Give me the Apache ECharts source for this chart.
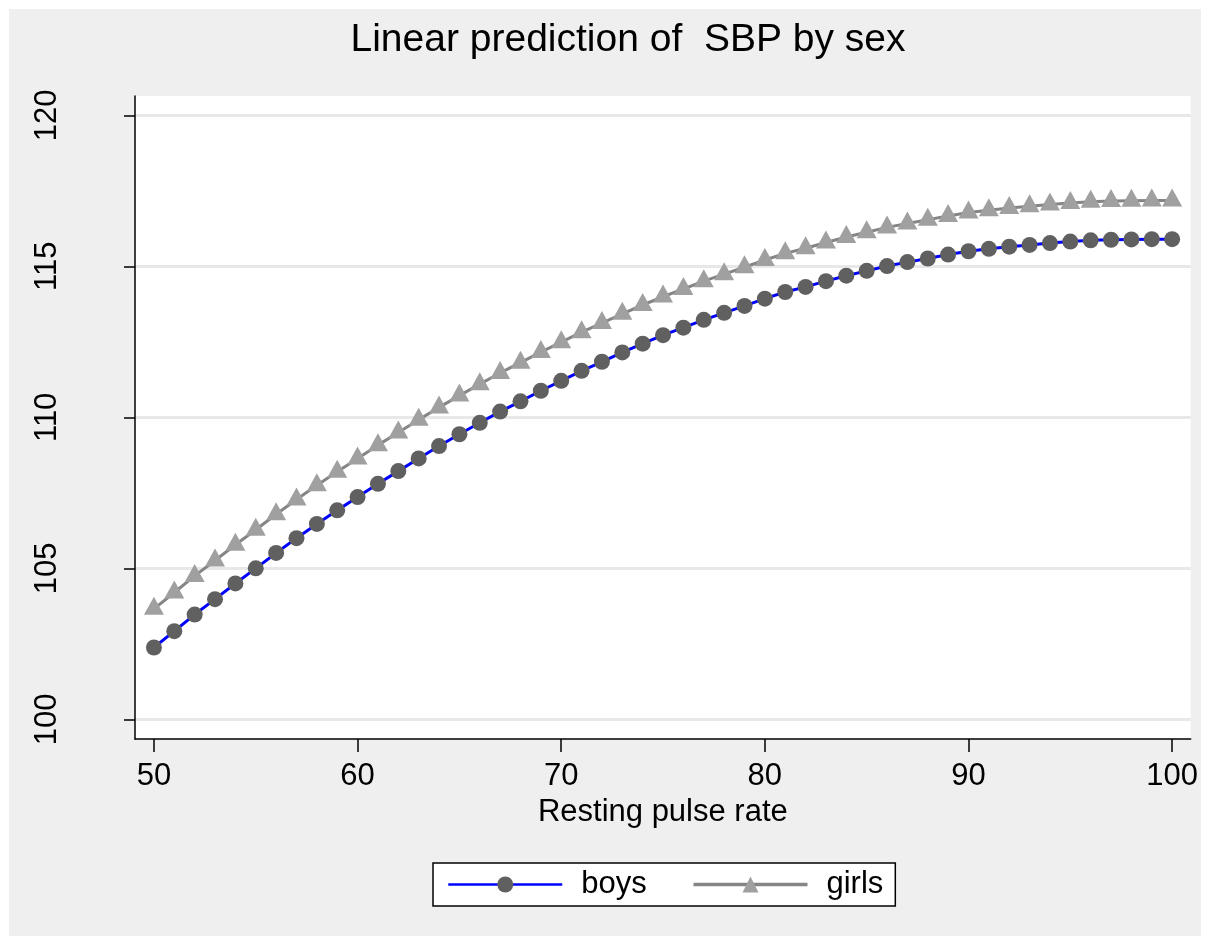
<!DOCTYPE html>
<html>
<head>
<meta charset="utf-8">
<script src="https://cdn.jsdelivr.net/npm/echarts@6/dist/echarts.min.js"></script>
<style>
  html, body { margin: 0; padding: 0; background: #ffffff; }
  #wrap { position: relative; width: 1210px; height: 945px; background: #ffffff; }
  #c { position: absolute; left: 9px; top: 9px; width: 1192px; height: 927px; }
</style>
</head>
<body>
<div id="wrap"><div id="c"></div></div>
<script>
const pulse = [50,51,52,53,54,55,56,57,58,59,60,61,62,63,64,65,66,67,68,69,70,71,72,73,74,75,76,77,78,79,80,81,82,83,84,85,86,87,88,89,90,91,92,93,94,95,96,97,98,99,100];
const boys = [102.38,102.92,103.47,103.98,104.50,105.00,105.51,106.00,106.47,106.92,
              107.36,107.80,108.22,108.64,109.05,109.44,109.82,110.19,110.53,110.88,
              111.21,111.54,111.84,112.15,112.44,112.72,112.97,113.23,113.46,113.69,
              113.93,114.15,114.32,114.51,114.69,114.85,115.01,115.14,115.26,115.39,
              115.50,115.58,115.65,115.71,115.77,115.82,115.86,115.88,115.89,115.90,115.90];
const girls = [103.66,104.20,104.75,105.26,105.78,106.28,106.79,107.28,107.75,108.20,
               108.64,109.08,109.50,109.92,110.33,110.72,111.10,111.47,111.81,112.16,
               112.49,112.82,113.12,113.43,113.72,114.00,114.25,114.51,114.74,114.97,
               115.21,115.43,115.60,115.79,115.97,116.13,116.29,116.42,116.54,116.67,
               116.78,116.86,116.93,116.99,117.05,117.10,117.14,117.16,117.17,117.18,117.18];
const xTicks = [50,60,70,80,90,100];
const yTicks = [100,105,110,115,120];
const seriesNames = ['boys','girls'];
const titleText = 'Linear prediction of  SBP by sex';
const xName = 'Resting pulse rate';

const FONT = '"Liberation Sans", Arial, Helvetica, sans-serif';
const chart = echarts.init(document.getElementById('c'), null, {renderer: 'canvas'});
const option = {
  backgroundColor: '#efefef',
  animation: false,
  title: {
    text: titleText,
    left: 614,
    textAlign: 'center',
    top: 7,
    textStyle: {fontFamily: FONT, fontSize: 39, fontWeight: 'normal', color: '#000'}
  },
  grid: {
    left: 126, top: 87, width: 1056, height: 643,
    show: true, backgroundColor: '#ffffff', borderWidth: 0,
    containLabel: false
  },
  xAxis: {
    type: 'value',
    min: 49.07, max: 100.91,
    name: xName,
    nameLocation: 'middle',
    nameGap: 56,
    nameTextStyle: {fontFamily: FONT, fontSize: 31, color: '#000', verticalAlign: 'top'},
    axisLine: {show: true, onZero: false, lineStyle: {color: '#000', width: 1.5}},
    axisTick: {show: true, inside: false, length: 13, customValues: xTicks, lineStyle: {color: '#000', width: 1.5}},
    axisLabel: {show: true, customValues: xTicks, margin: 22, fontFamily: FONT, fontSize: 31, color: '#000',
                showMinLabel: true, showMaxLabel: true},
    splitLine: {show: false}
  },
  yAxis: {
    type: 'value',
    min: 99.35, max: 120.64,
    axisLine: {show: true, onZero: false, lineStyle: {color: '#000', width: 1.5}},
    axisTick: {show: true, inside: false, length: 11, customValues: yTicks, lineStyle: {color: '#000', width: 1.5}},
    axisLabel: {show: true, customValues: yTicks, rotate: 90, margin: 72, fontFamily: FONT, fontSize: 31, color: '#000',
                showMinLabel: true, showMaxLabel: true},
    splitLine: {show: true, lineStyle: {color: '#e8e8e8', width: 3}}
  },
  legend: {
    data: [
      {name: seriesNames[0], lineStyle: {width: 2.5, color: '#0000ff'}, itemStyle: {color: '#606060'}},
      {name: seriesNames[1], lineStyle: {width: 3.5, color: '#858585'}, itemStyle: {color: '#a0a0a0'}}
    ],
    left: 424,
    top: 854,
    orient: 'horizontal',
    itemWidth: 114,
    itemHeight: 20,
    itemGap: 45,
    padding: [6, 12, 6, 14],
    backgroundColor: '#ffffff',
    borderColor: '#000',
    borderWidth: 1.5,
    borderRadius: 0,
    textStyle: {fontFamily: FONT, fontSize: 31, color: '#000', padding: [0, 0, 0, 14]}
  },
  series: [
    {
      name: seriesNames[0],
      type: 'line',
      data: pulse.map((p, i) => [p, boys[i]]),
      symbol: 'circle',
      symbolSize: 16,
      showAllSymbol: true,
      lineStyle: {color: '#0000ff', width: 3},
      itemStyle: {color: '#606060', borderWidth: 0},
      z: 3
    },
    {
      name: seriesNames[1],
      type: 'line',
      data: pulse.map((p, i) => [p, girls[i]]),
      symbol: 'triangle',
      symbolSize: [20, 18],
      symbolOffset: [0, -3],
      showAllSymbol: true,
      lineStyle: {color: '#858585', width: 3},
      itemStyle: {color: '#a0a0a0', borderWidth: 0},
      z: 2
    }
  ]
};
chart.setOption(option);
</script>
</body>
</html>
